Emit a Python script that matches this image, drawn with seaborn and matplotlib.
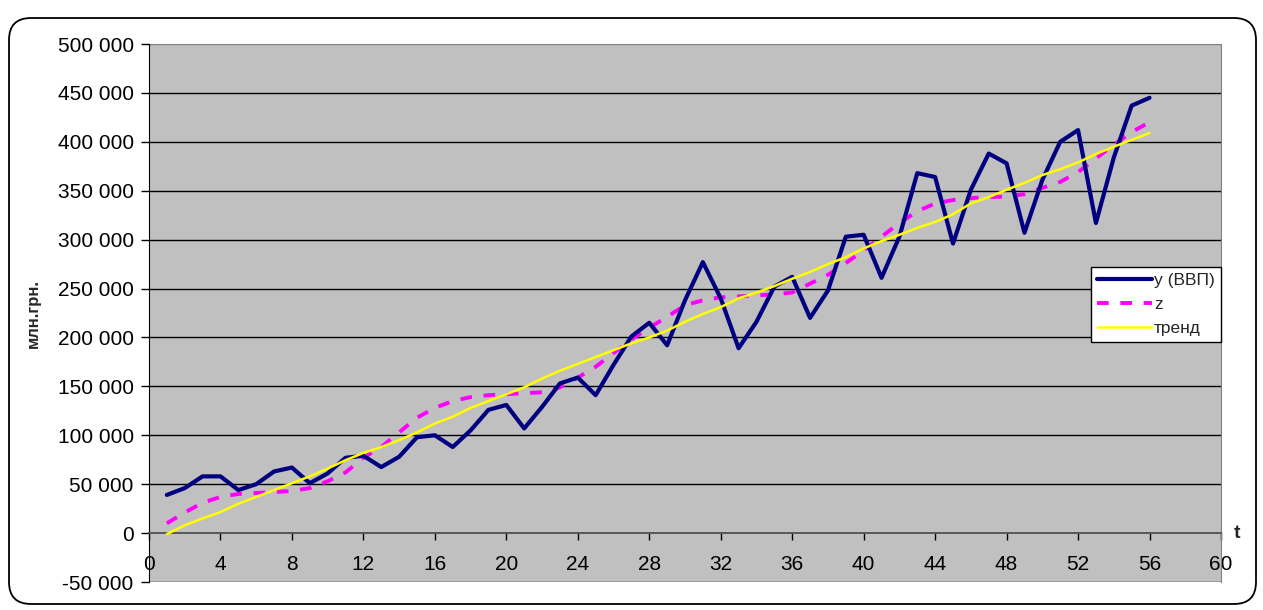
import matplotlib
matplotlib.use("Agg")
import matplotlib.pyplot as plt
import matplotlib.ticker as mticker
from matplotlib.patches import FancyBboxPatch
from matplotlib.transforms import IdentityTransform
import seaborn as sns
import numpy as np
import pandas as pd

# квартали
t = list(range(1, 57))

# ВВП, млн.грн.
y_vvp = [39000, 46000, 58000, 58000, 44000, 50000, 63000, 67000, 51000, 61000,
         77000, 79000, 67500, 78000, 98000, 100000, 88000, 105000, 126000, 131000,
         107000, 129000, 153000, 159000, 141000, 172000, 201000, 215000, 192000, 238000,
         277000, 240000, 189000, 216000, 252000, 262000, 220000, 248000, 303000, 305000,
         261000, 303000, 368000, 364000, 296000, 351000, 388000, 378000, 307000, 361000,
         400000, 412000, 317000, 384000, 437000, 445000]

# згладжений ряд z
z_vals = [10000, 21000, 31000, 37000, 40000, 41000, 42000, 43000, 46000, 53000,
          62000, 77000, 88000, 103000, 118000, 128000, 135000, 139000, 141000, 142000,
          143000, 144000, 149000, 159000, 170000, 184000, 198000, 210000, 221000, 233000,
          238000, 241000, 242000, 243000, 244000, 246000, 255000, 264000, 276000, 289000,
          303000, 317000, 329000, 337000, 340500, 342500, 343500, 344000, 346500, 353000,
          359000, 369000, 383000, 397000, 410000, 420000]

# тренд
trend = [-1000, 8000, 15000, 21500, 30000, 37000, 44000, 51000, 58000, 66000,
         74500, 82000, 88000, 95000, 103000, 112000, 119000, 128000, 135000, 142000,
         149000, 158000, 166000, 173000, 180000, 187000, 194000, 200000, 207000, 216000,
         224000, 231000, 240000, 246000, 252500, 260000, 267000, 275000, 282000, 291000,
         298500, 305000, 312000, 318000, 326000, 337000, 343500, 351000, 358000, 366000,
         372000, 379000, 387500, 395000, 402000, 409000]

x_ticks = list(range(0, 61, 4))
y_ticks = list(range(-50000, 500001, 50000))

df = pd.DataFrame({"t": t, "y": y_vvp, "z": z_vals, "trend": trend})

sns.set_style("white")
plt.rcParams["font.family"] = ["Liberation Sans", "DejaVu Sans"]

fig = plt.figure(figsize=(12.63, 6.10), dpi=100)
ax = fig.add_axes([149 / 1263, 1 - 582 / 610, 1072 / 1263, 538 / 610])
ax.set_facecolor("#C0C0C0")

# рамка діаграми
fig.patches.append(FancyBboxPatch((9, 6), 1247, 586, boxstyle="round,pad=0,rounding_size=22",
                                  transform=IdentityTransform(), facecolor="none",
                                  edgecolor="black", linewidth=1.3, zorder=0))

for v in y_ticks:
    if v != 0:
        ax.axhline(v, color="black" if v < 500000 else "#808080", linewidth=1.0, zorder=1)

sns.lineplot(data=df, x="t", y="y", ax=ax, color="#000080", linewidth=3.0,
             label="y (ВВП)", zorder=4)
sns.lineplot(data=df, x="t", y="z", ax=ax, color="#FF00FF", linewidth=2.8,
             dashes=(3, 3), label="z", zorder=3)
sns.lineplot(data=df, x="t", y="trend", ax=ax, color="#FFFF00", linewidth=1.8,
             label="тренд", zorder=5)

ax.set_xlim(0, 60)
ax.set_ylim(-50000, 500000)
ax.set_xticks(x_ticks)
ax.set_yticks(y_ticks)
ax.yaxis.set_major_formatter(mticker.FuncFormatter(lambda v, p: f"{int(v):,}".replace(",", " ")))

ax.spines["bottom"].set_position(("data", 0))
ax.spines["bottom"].set_color("#505050")
ax.spines["bottom"].set_linewidth(1.3)
ax.spines["left"].set_color("black")
ax.spines["top"].set_visible(False)
ax.spines["right"].set_color("#808080")
ax.tick_params(axis="x", direction="out", length=5, width=1, pad=11, labelsize=15, colors="black")
ax.tick_params(axis="y", direction="out", length=6, width=1, pad=5, labelsize=15, colors="black")
ax.tick_params(axis="x", bottom=True)
ax.tick_params(axis="y", left=True)

ax.set_xlabel("")
ax.set_ylabel("млн.грн.", fontsize=12, fontweight="bold", labelpad=12)
ax.text(1.012, 50000 / 550000, "t", transform=ax.transAxes, fontsize=14,
        fontweight="bold", ha="left", va="center")

leg = ax.legend(loc="upper right", bbox_to_anchor=(1.0, (582 - 267) / 538), borderaxespad=0,
                frameon=True, fancybox=False, framealpha=1, edgecolor="black",
                fontsize=12.5, handlelength=3.2, handletextpad=0.1, labelspacing=0.5,
                borderpad=0.35)
leg.get_frame().set_linewidth(1.0)

fig.savefig("out.png", dpi=100)
